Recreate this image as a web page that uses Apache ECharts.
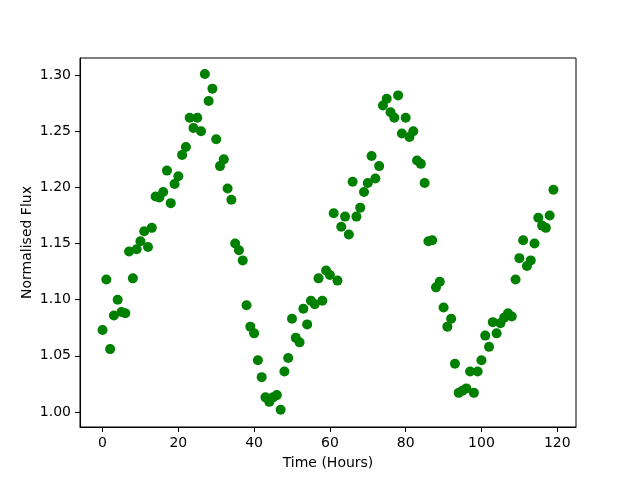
<!DOCTYPE html>
<html>
<head>
<meta charset="utf-8">
<script src="https://cdn.jsdelivr.net/npm/echarts@6/dist/echarts.min.js"></script>
<style>
  html, body { margin: 0; padding: 0; background: #fff; }
  #chart { width: 640px; height: 480px; }
</style>
</head>
<body>
<div id="chart"></div>
<script>
// hours since start
const hours = [];
for (let h = 0; h < 120; h++) hours.push(h);

// normalised flux
const flux = [
  1.073, 1.118, 1.056, 1.086, 1.100, 1.089, 1.088, 1.143, 1.119, 1.145,
  1.152, 1.161, 1.147, 1.164, 1.192, 1.191, 1.196, 1.215, 1.186, 1.203,
  1.210, 1.229, 1.236, 1.262, 1.253, 1.262, 1.250, 1.301, 1.277, 1.288,
  1.243, 1.219, 1.225, 1.199, 1.189, 1.150, 1.144, 1.135, 1.095, 1.076,
  1.070, 1.046, 1.031, 1.013, 1.009, 1.013, 1.015, 1.002, 1.036, 1.048,
  1.083, 1.066, 1.062, 1.092, 1.078, 1.099, 1.096, 1.119, 1.099, 1.126,
  1.122, 1.177, 1.117, 1.165, 1.174, 1.158, 1.205, 1.174, 1.182, 1.196,
  1.204, 1.228, 1.208, 1.219, 1.273, 1.279, 1.267, 1.262, 1.282, 1.248,
  1.262, 1.245, 1.250, 1.224, 1.221, 1.204, 1.152, 1.153, 1.111, 1.116,
  1.093, 1.076, 1.083, 1.043, 1.017, 1.019, 1.021, 1.036, 1.017, 1.036,
  1.046, 1.068, 1.058, 1.080, 1.070, 1.079, 1.084, 1.088, 1.085, 1.118,
  1.137, 1.153, 1.130, 1.135, 1.150, 1.173, 1.166, 1.164, 1.175, 1.198
];

const xTicks = [0, 20, 40, 60, 80, 100, 120];
const yTicks = [1.00, 1.05, 1.10, 1.15, 1.20, 1.25, 1.30];

const chart = echarts.init(document.getElementById('chart'), null, { renderer: 'canvas' });

const font = 'DejaVu Sans';

chart.setOption({
  animation: false,
  backgroundColor: '#fff',
  textStyle: { fontFamily: font },
  grid: {
    left: 80, right: 64, top: 58, bottom: 53,
    show: true, borderColor: '#000', borderWidth: 1, backgroundColor: 'transparent'
  },
  xAxis: {
    type: 'value',
    min: -5.95, max: 124.95,
    name: 'Time (Hours)',
    nameLocation: 'middle',
    nameGap: 29,
    nameTextStyle: { fontFamily: font, fontSize: 14, color: '#000' },
    axisLine: { show: true, onZero: false, lineStyle: { color: '#000', width: 1 } },
    axisTick: { show: true, length: 5, lineStyle: { color: '#000' }, customValues: xTicks },
    axisLabel: { margin: 9, fontFamily: font, fontSize: 14, color: '#000', customValues: xTicks },
    splitLine: { show: false }
  },
  yAxis: {
    type: 'value',
    min: 0.9866, max: 1.3153,
    name: 'Normalised Flux',
    nameLocation: 'middle',
    nameGap: 46,
    nameMoveOverlap: false,
    nameTextStyle: { fontFamily: font, fontSize: 14, color: '#000' },
    axisLine: { show: true, onZero: false, lineStyle: { color: '#000', width: 1 } },
    axisTick: { show: true, length: 5, lineStyle: { color: '#000' }, customValues: yTicks },
    axisLabel: {
      margin: 9, fontFamily: font, fontSize: 14, color: '#000',
      customValues: yTicks,
      formatter: v => v.toFixed(2)
    },
    splitLine: { show: false }
  },
  series: [{
    type: 'scatter',
    data: hours.map((h, i) => [h, flux[i]]),
    symbol: 'circle',
    symbolSize: 10,
    itemStyle: { color: '#008000', opacity: 1 }
  }]
});
</script>
</body>
</html>
